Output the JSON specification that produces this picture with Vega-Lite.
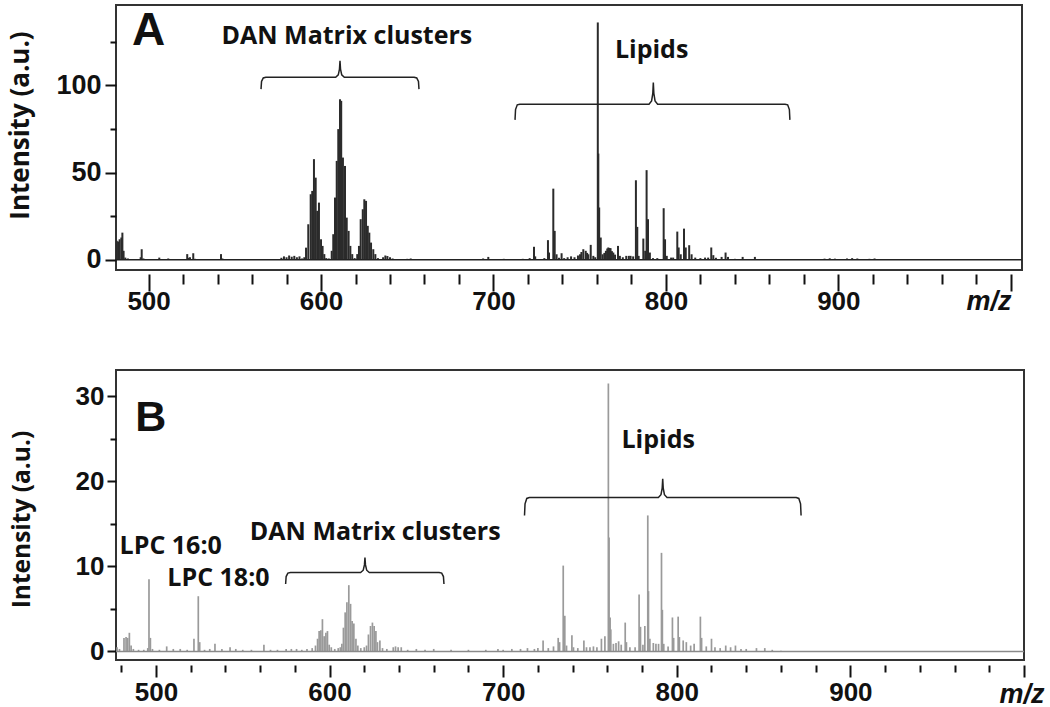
{
  "$schema": "https://vega.github.io/schema/vega-lite/v6.json",
  "background": "white",
  "padding": {"left": 5, "top": 4, "right": 0, "bottom": 0},
  "spacing": 54,
  "config": {
    "view": {"stroke": "#333333", "strokeWidth": 2},
    "axis": {"grid": false, "domain": false, "tickColor": "#111111", "tickWidth": 2, "labelColor": "#111111", "titleColor": "#111111", "labelFont": "Liberation Sans", "labelFontWeight": "bold", "labelOverlap": false, "labelFlush": false, "labelBound": false}
  },
  "datasets": {
    "spectrumA": [
      {"mz": 481.5, "intensity": 10.9}, {"mz": 482.3, "intensity": 10.5}, {"mz": 483.2, "intensity": 11.8}, {"mz": 484.2, "intensity": 12.8}, {"mz": 484.8, "intensity": 15.6}, {"mz": 485.5, "intensity": 5.2}, {"mz": 486.5, "intensity": 1.3}, {"mz": 488, "intensity": 0.8}, {"mz": 490, "intensity": 0.3}, {"mz": 493, "intensity": 0.4}, {"mz": 495.4, "intensity": 1.5}, {"mz": 496.0, "intensity": 6.1}, {"mz": 497, "intensity": 0.8}, {"mz": 500, "intensity": 0.3},
      {"mz": 506.2, "intensity": 1.3}, {"mz": 509, "intensity": 0.4}, {"mz": 511.4, "intensity": 0.8}, {"mz": 515, "intensity": 0.3}, {"mz": 518, "intensity": 0.4}, {"mz": 522.4, "intensity": 3.3}, {"mz": 523.2, "intensity": 1.2}, {"mz": 524.0, "intensity": 1.5}, {"mz": 525.9, "intensity": 3.8}, {"mz": 527, "intensity": 0.6}, {"mz": 530, "intensity": 0.3}, {"mz": 535, "intensity": 0.3}, {"mz": 542, "intensity": 3.3}, {"mz": 542.8, "intensity": 0.8}, {"mz": 546, "intensity": 0.3}, {"mz": 550.1, "intensity": 0.5}, {"mz": 555, "intensity": 0.3}, {"mz": 560, "intensity": 0.4}, {"mz": 565, "intensity": 0.3}, {"mz": 568, "intensity": 0.5}, {"mz": 570, "intensity": 0.5}, {"mz": 573, "intensity": 0.3},
      {"mz": 577, "intensity": 1.2}, {"mz": 578.5, "intensity": 2.0}, {"mz": 580, "intensity": 1.5}, {"mz": 581.5, "intensity": 2.5}, {"mz": 583, "intensity": 1.8}, {"mz": 584.5, "intensity": 2.3}, {"mz": 586, "intensity": 1.5}, {"mz": 587.5, "intensity": 2.0}, {"mz": 589, "intensity": 0.8}, {"mz": 590.3, "intensity": 1.5},
      {"mz": 591.3, "intensity": 7.0}, {"mz": 592.6, "intensity": 20.4}, {"mz": 594.0, "intensity": 37.6}, {"mz": 594.9, "intensity": 39.5}, {"mz": 595.9, "intensity": 57.7}, {"mz": 596.9, "intensity": 47.1}, {"mz": 597.8, "intensity": 28.1}, {"mz": 598.8, "intensity": 32.8}, {"mz": 600.0, "intensity": 11.8}, {"mz": 600.9, "intensity": 8.0}, {"mz": 601.9, "intensity": 3.3}, {"mz": 603, "intensity": 1.0}, {"mz": 604.5, "intensity": 0.8},
      {"mz": 606.2, "intensity": 5.2}, {"mz": 607.1, "intensity": 14.7}, {"mz": 608.1, "intensity": 35.7}, {"mz": 609.1, "intensity": 56.7}, {"mz": 610.0, "intensity": 74.9}, {"mz": 611.0, "intensity": 92.0}, {"mz": 611.7, "intensity": 91.1}, {"mz": 612.7, "intensity": 58.6}, {"mz": 613.9, "intensity": 53.8}, {"mz": 614.9, "intensity": 24.2}, {"mz": 616.0, "intensity": 16.6}, {"mz": 617.0, "intensity": 8.0}, {"mz": 618.1, "intensity": 3.3}, {"mz": 619.5, "intensity": 1.0},
      {"mz": 621.0, "intensity": 3.3}, {"mz": 622.0, "intensity": 8.0}, {"mz": 623.0, "intensity": 23.3}, {"mz": 624.2, "intensity": 29.0}, {"mz": 625.1, "intensity": 34.7}, {"mz": 626.1, "intensity": 33.8}, {"mz": 627.1, "intensity": 19.5}, {"mz": 628.0, "intensity": 15.6}, {"mz": 629.0, "intensity": 9.9}, {"mz": 630.3, "intensity": 6.1}, {"mz": 631.5, "intensity": 3.3}, {"mz": 633, "intensity": 1.0},
      {"mz": 636, "intensity": 1.5}, {"mz": 637.3, "intensity": 2.5}, {"mz": 638.5, "intensity": 2.2}, {"mz": 640, "intensity": 1.5}, {"mz": 641.5, "intensity": 0.8}, {"mz": 645, "intensity": 0.4}, {"mz": 650, "intensity": 0.6}, {"mz": 652, "intensity": 0.8}, {"mz": 655, "intensity": 0.4}, {"mz": 660, "intensity": 0.3}, {"mz": 665, "intensity": 0.3}, {"mz": 668, "intensity": 0.4}, {"mz": 675, "intensity": 0.3}, {"mz": 680, "intensity": 0.3}, {"mz": 685, "intensity": 0.4}, {"mz": 690, "intensity": 0.3}, {"mz": 694, "intensity": 0.8}, {"mz": 697, "intensity": 1.7}, {"mz": 699, "intensity": 0.5}, {"mz": 703, "intensity": 0.4}, {"mz": 706, "intensity": 0.6}, {"mz": 710, "intensity": 0.5}, {"mz": 714, "intensity": 0.4}, {"mz": 717, "intensity": 0.6}, {"mz": 721, "intensity": 1.0}, {"mz": 723.5, "intensity": 7.5}, {"mz": 724.2, "intensity": 2.0}, {"mz": 727, "intensity": 0.3},
      {"mz": 729.5, "intensity": 1.0}, {"mz": 731.6, "intensity": 11.3}, {"mz": 732.2, "intensity": 4.2}, {"mz": 734.7, "intensity": 40.8}, {"mz": 735.5, "intensity": 16.6}, {"mz": 736.6, "intensity": 3.2}, {"mz": 738, "intensity": 1.2}, {"mz": 739.5, "intensity": 3.8}, {"mz": 741, "intensity": 1.0}, {"mz": 743, "intensity": 1.5}, {"mz": 745, "intensity": 2.0}, {"mz": 747, "intensity": 1.5}, {"mz": 749, "intensity": 2.5}, {"mz": 750.2, "intensity": 3.2}, {"mz": 751, "intensity": 4.5}, {"mz": 752.1, "intensity": 6.1}, {"mz": 753.5, "intensity": 5.2}, {"mz": 754.3, "intensity": 4.0}, {"mz": 755.0, "intensity": 3.2}, {"mz": 756.4, "intensity": 8.6}, {"mz": 757.9, "intensity": 2.3}, {"mz": 759, "intensity": 1.5},
      {"mz": 760.5, "intensity": 136}, {"mz": 760.8, "intensity": 60.9}, {"mz": 761.3, "intensity": 30}, {"mz": 762.2, "intensity": 12.8}, {"mz": 763.3, "intensity": 3.2}, {"mz": 764.3, "intensity": 4.0}, {"mz": 765.2, "intensity": 5.2}, {"mz": 766.0, "intensity": 6.5}, {"mz": 766.6, "intensity": 7.1}, {"mz": 767.3, "intensity": 6.8}, {"mz": 767.9, "intensity": 6.7}, {"mz": 768.7, "intensity": 5.0}, {"mz": 769.5, "intensity": 4.2}, {"mz": 770.5, "intensity": 3.0}, {"mz": 772.2, "intensity": 8.0}, {"mz": 773.3, "intensity": 2.3}, {"mz": 775, "intensity": 1.5}, {"mz": 777, "intensity": 2.3}, {"mz": 778.5, "intensity": 2.3}, {"mz": 779.5, "intensity": 2.3}, {"mz": 781, "intensity": 2.0},
      {"mz": 782.6, "intensity": 45.6}, {"mz": 783.4, "intensity": 18.9}, {"mz": 784.2, "intensity": 2.3}, {"mz": 786.9, "intensity": 12.2}, {"mz": 788.0, "intensity": 5.2}, {"mz": 788.8, "intensity": 51.4}, {"mz": 789.6, "intensity": 23.3}, {"mz": 790.7, "intensity": 4.2}, {"mz": 792.5, "intensity": 1.0}, {"mz": 795, "intensity": 1.0}, {"mz": 798.7, "intensity": 29.6}, {"mz": 799.5, "intensity": 11.8}, {"mz": 800.5, "intensity": 2.3}, {"mz": 803, "intensity": 1.3}, {"mz": 804.2, "intensity": 1.3}, {"mz": 806.6, "intensity": 16.2}, {"mz": 807.4, "intensity": 7.1}, {"mz": 808.6, "intensity": 3.2}, {"mz": 810.5, "intensity": 17.9}, {"mz": 811.5, "intensity": 7.1}, {"mz": 813.5, "intensity": 8.4}, {"mz": 814.9, "intensity": 3.2}, {"mz": 817, "intensity": 1.3}, {"mz": 820, "intensity": 1.0}, {"mz": 822.7, "intensity": 1.3}, {"mz": 824.5, "intensity": 1.3}, {"mz": 826.3, "intensity": 7.1}, {"mz": 827.5, "intensity": 2.7}, {"mz": 829, "intensity": 1.2}, {"mz": 832.3, "intensity": 1.7}, {"mz": 834.6, "intensity": 4.2}, {"mz": 836, "intensity": 1.7}, {"mz": 840, "intensity": 0.6}, {"mz": 844.5, "intensity": 1.7}, {"mz": 848, "intensity": 0.5}, {"mz": 851.6, "intensity": 1.7}, {"mz": 855, "intensity": 0.4}, {"mz": 860, "intensity": 0.3}, {"mz": 866, "intensity": 0.4}, {"mz": 872, "intensity": 0.3}, {"mz": 880, "intensity": 0.3}, {"mz": 886, "intensity": 0.4}, {"mz": 892, "intensity": 0.7}, {"mz": 895, "intensity": 0.9}, {"mz": 898, "intensity": 0.7}, {"mz": 905, "intensity": 0.8}, {"mz": 908, "intensity": 1.0}, {"mz": 911, "intensity": 0.8}, {"mz": 918, "intensity": 0.6}, {"mz": 921, "intensity": 0.8}, {"mz": 925, "intensity": 0.5}, {"mz": 932, "intensity": 0.4}, {"mz": 940, "intensity": 0.3}, {"mz": 950, "intensity": 0.3}
    ],
    "spectrumB": [
      {"mz": 477.6, "intensity": 0.5}, {"mz": 479, "intensity": 0.3}, {"mz": 481.6, "intensity": 1.6}, {"mz": 482.8, "intensity": 1.7}, {"mz": 483.7, "intensity": 1.6}, {"mz": 484.7, "intensity": 2.2}, {"mz": 485.7, "intensity": 0.7}, {"mz": 487, "intensity": 0.3}, {"mz": 490, "intensity": 0.2}, {"mz": 493, "intensity": 0.2}, {"mz": 495.3, "intensity": 0.4}, {"mz": 496.0, "intensity": 8.5}, {"mz": 496.8, "intensity": 1.6}, {"mz": 498, "intensity": 0.3}, {"mz": 502, "intensity": 0.2}, {"mz": 506.2, "intensity": 0.6}, {"mz": 510, "intensity": 0.3}, {"mz": 514, "intensity": 0.3}, {"mz": 518, "intensity": 0.2}, {"mz": 521.9, "intensity": 1.5}, {"mz": 524.4, "intensity": 6.5}, {"mz": 525.2, "intensity": 1.1}, {"mz": 528, "intensity": 0.2}, {"mz": 531, "intensity": 0.3}, {"mz": 534.0, "intensity": 0.9}, {"mz": 538, "intensity": 0.3}, {"mz": 542.7, "intensity": 0.5}, {"mz": 546, "intensity": 0.3}, {"mz": 550, "intensity": 0.2}, {"mz": 555, "intensity": 0.2}, {"mz": 562.2, "intensity": 0.8}, {"mz": 566, "intensity": 0.2}, {"mz": 570, "intensity": 0.2}, {"mz": 575, "intensity": 0.3}, {"mz": 578, "intensity": 0.3}, {"mz": 581, "intensity": 0.3}, {"mz": 584, "intensity": 0.2}, {"mz": 587, "intensity": 0.3}, {"mz": 590, "intensity": 0.4},
      {"mz": 591.9, "intensity": 0.7}, {"mz": 593.1, "intensity": 1.5}, {"mz": 594.0, "intensity": 2.4}, {"mz": 595.0, "intensity": 2.5}, {"mz": 595.9, "intensity": 3.8}, {"mz": 596.9, "intensity": 1.8}, {"mz": 597.9, "intensity": 2.2}, {"mz": 598.8, "intensity": 2.4}, {"mz": 599.8, "intensity": 0.8}, {"mz": 601, "intensity": 0.5}, {"mz": 603, "intensity": 0.3}, {"mz": 605, "intensity": 0.4}, {"mz": 606.2, "intensity": 0.5}, {"mz": 607.1, "intensity": 0.9}, {"mz": 608.0, "intensity": 2.8}, {"mz": 609.0, "intensity": 4.6}, {"mz": 610.0, "intensity": 5.8}, {"mz": 611.1, "intensity": 7.8}, {"mz": 612.1, "intensity": 5.6}, {"mz": 613.0, "intensity": 3.6}, {"mz": 614.0, "intensity": 3.3}, {"mz": 615.2, "intensity": 1.5}, {"mz": 616.3, "intensity": 0.7}, {"mz": 618, "intensity": 0.4}, {"mz": 620, "intensity": 0.5}, {"mz": 621.3, "intensity": 0.7}, {"mz": 622.4, "intensity": 2.0}, {"mz": 623.6, "intensity": 3.0}, {"mz": 624.7, "intensity": 3.4}, {"mz": 625.7, "intensity": 3.0}, {"mz": 626.7, "intensity": 2.4}, {"mz": 627.6, "intensity": 1.1}, {"mz": 629.0, "intensity": 1.3}, {"mz": 630.5, "intensity": 0.4}, {"mz": 633, "intensity": 0.3}, {"mz": 636.7, "intensity": 0.5}, {"mz": 638, "intensity": 0.6}, {"mz": 639.5, "intensity": 0.5}, {"mz": 641.3, "intensity": 0.5}, {"mz": 645, "intensity": 0.2}, {"mz": 650, "intensity": 0.3}, {"mz": 655, "intensity": 0.2}, {"mz": 660, "intensity": 0.3}, {"mz": 670, "intensity": 0.2}, {"mz": 680, "intensity": 0.2}, {"mz": 690, "intensity": 0.2}, {"mz": 697, "intensity": 0.3}, {"mz": 700, "intensity": 0.2}, {"mz": 705, "intensity": 0.3}, {"mz": 710, "intensity": 0.3}, {"mz": 714, "intensity": 0.4}, {"mz": 718, "intensity": 0.3}, {"mz": 720, "intensity": 0.4},
      {"mz": 723.0, "intensity": 1.3}, {"mz": 726, "intensity": 0.4}, {"mz": 729, "intensity": 0.6}, {"mz": 731.7, "intensity": 1.6}, {"mz": 732.5, "intensity": 1.1}, {"mz": 734.6, "intensity": 10.1}, {"mz": 735.5, "intensity": 4.2}, {"mz": 736.5, "intensity": 0.7}, {"mz": 739.6, "intensity": 1.9}, {"mz": 740.5, "intensity": 0.5}, {"mz": 743, "intensity": 0.4}, {"mz": 746.5, "intensity": 1.3}, {"mz": 748, "intensity": 0.5}, {"mz": 750, "intensity": 0.5}, {"mz": 752, "intensity": 0.6}, {"mz": 754, "intensity": 0.5}, {"mz": 756.6, "intensity": 1.5}, {"mz": 758.6, "intensity": 1.8}, {"mz": 760.6, "intensity": 31.5}, {"mz": 761.0, "intensity": 13.4}, {"mz": 761.6, "intensity": 4.0}, {"mz": 762.0, "intensity": 2.6}, {"mz": 763.5, "intensity": 0.9}, {"mz": 765, "intensity": 1.0}, {"mz": 766.5, "intensity": 1.2}, {"mz": 768, "intensity": 0.8}, {"mz": 770.3, "intensity": 3.4}, {"mz": 771, "intensity": 1.1}, {"mz": 773, "intensity": 0.5}, {"mz": 776, "intensity": 0.5}, {"mz": 778.3, "intensity": 6.7}, {"mz": 779.1, "intensity": 2.9}, {"mz": 780.5, "intensity": 0.8}, {"mz": 781.6, "intensity": 3.0}, {"mz": 783.3, "intensity": 16.0}, {"mz": 783.7, "intensity": 7.1}, {"mz": 784.5, "intensity": 1.5}, {"mz": 786.5, "intensity": 1.0}, {"mz": 788, "intensity": 0.9}, {"mz": 789.5, "intensity": 0.9}, {"mz": 791.2, "intensity": 11.6}, {"mz": 791.7, "intensity": 4.9}, {"mz": 792.5, "intensity": 0.9}, {"mz": 795, "intensity": 0.6}, {"mz": 797.5, "intensity": 4.0}, {"mz": 798.2, "intensity": 1.6}, {"mz": 800.8, "intensity": 4.1}, {"mz": 801.5, "intensity": 1.7}, {"mz": 803.7, "intensity": 1.3}, {"mz": 805.5, "intensity": 1.1}, {"mz": 808, "intensity": 0.7}, {"mz": 810, "intensity": 0.9}, {"mz": 813.6, "intensity": 4.1}, {"mz": 814.3, "intensity": 1.6}, {"mz": 817, "intensity": 0.6}, {"mz": 820, "intensity": 1.5}, {"mz": 822, "intensity": 0.5}, {"mz": 825, "intensity": 0.4}, {"mz": 828.2, "intensity": 0.7}, {"mz": 831, "intensity": 0.5}, {"mz": 833.8, "intensity": 0.7}, {"mz": 837, "intensity": 0.3}, {"mz": 840, "intensity": 0.3}, {"mz": 845.9, "intensity": 0.4}, {"mz": 850.7, "intensity": 0.4}, {"mz": 855, "intensity": 0.2}, {"mz": 860, "intensity": 0.1}
    ],
    "braces": [
      {"panel": "A", "id": "A-DAN", "order": 1, "mz": 565.2, "intensity": 97.8}, {"panel": "A", "id": "A-DAN", "order": 2, "mz": 565.5, "intensity": 102.2}, {"panel": "A", "id": "A-DAN", "order": 3, "mz": 566.5, "intensity": 104.2}, {"panel": "A", "id": "A-DAN", "order": 4, "mz": 568.0, "intensity": 104.6}, {"panel": "A", "id": "A-DAN", "order": 5, "mz": 608.5, "intensity": 104.6}, {"panel": "A", "id": "A-DAN", "order": 6, "mz": 610.0, "intensity": 106.0}, {"panel": "A", "id": "A-DAN", "order": 7, "mz": 610.7, "intensity": 109.3}, {"panel": "A", "id": "A-DAN", "order": 8, "mz": 611.0, "intensity": 114.0}, {"panel": "A", "id": "A-DAN", "order": 9, "mz": 611.3, "intensity": 109.3}, {"panel": "A", "id": "A-DAN", "order": 10, "mz": 612.0, "intensity": 106.0}, {"panel": "A", "id": "A-DAN", "order": 11, "mz": 613.5, "intensity": 104.6}, {"panel": "A", "id": "A-DAN", "order": 12, "mz": 654.0, "intensity": 104.6}, {"panel": "A", "id": "A-DAN", "order": 13, "mz": 655.5, "intensity": 104.2}, {"panel": "A", "id": "A-DAN", "order": 14, "mz": 656.5, "intensity": 102.2}, {"panel": "A", "id": "A-DAN", "order": 15, "mz": 656.8, "intensity": 97.8},
      {"panel": "A", "id": "A-LIP", "order": 1, "mz": 712.5, "intensity": 80.2}, {"panel": "A", "id": "A-LIP", "order": 2, "mz": 712.8, "intensity": 86.1}, {"panel": "A", "id": "A-LIP", "order": 3, "mz": 713.8, "intensity": 88.8}, {"panel": "A", "id": "A-LIP", "order": 4, "mz": 715.3, "intensity": 89.2}, {"panel": "A", "id": "A-LIP", "order": 5, "mz": 790.2, "intensity": 89.2}, {"panel": "A", "id": "A-LIP", "order": 6, "mz": 791.7, "intensity": 91.1}, {"panel": "A", "id": "A-LIP", "order": 7, "mz": 792.4, "intensity": 95.4}, {"panel": "A", "id": "A-LIP", "order": 8, "mz": 792.7, "intensity": 101.6}, {"panel": "A", "id": "A-LIP", "order": 9, "mz": 793.0, "intensity": 95.4}, {"panel": "A", "id": "A-LIP", "order": 10, "mz": 793.7, "intensity": 91.1}, {"panel": "A", "id": "A-LIP", "order": 11, "mz": 795.2, "intensity": 89.2}, {"panel": "A", "id": "A-LIP", "order": 12, "mz": 869.1, "intensity": 89.2}, {"panel": "A", "id": "A-LIP", "order": 13, "mz": 870.6, "intensity": 88.8}, {"panel": "A", "id": "A-LIP", "order": 14, "mz": 871.6, "intensity": 86.1}, {"panel": "A", "id": "A-LIP", "order": 15, "mz": 871.9, "intensity": 80.2},
      {"panel": "B", "id": "B-DAN", "order": 1, "mz": 574.7, "intensity": 7.93}, {"panel": "B", "id": "B-DAN", "order": 2, "mz": 575.0, "intensity": 8.81}, {"panel": "B", "id": "B-DAN", "order": 3, "mz": 576.0, "intensity": 9.22}, {"panel": "B", "id": "B-DAN", "order": 4, "mz": 577.5, "intensity": 9.29}, {"panel": "B", "id": "B-DAN", "order": 5, "mz": 617.9, "intensity": 9.29}, {"panel": "B", "id": "B-DAN", "order": 6, "mz": 619.4, "intensity": 9.56}, {"panel": "B", "id": "B-DAN", "order": 7, "mz": 620.1, "intensity": 10.18}, {"panel": "B", "id": "B-DAN", "order": 8, "mz": 620.4, "intensity": 11.06}, {"panel": "B", "id": "B-DAN", "order": 9, "mz": 620.7, "intensity": 10.18}, {"panel": "B", "id": "B-DAN", "order": 10, "mz": 621.4, "intensity": 9.56}, {"panel": "B", "id": "B-DAN", "order": 11, "mz": 622.9, "intensity": 9.29}, {"panel": "B", "id": "B-DAN", "order": 12, "mz": 663.1, "intensity": 9.29}, {"panel": "B", "id": "B-DAN", "order": 13, "mz": 664.6, "intensity": 9.22}, {"panel": "B", "id": "B-DAN", "order": 14, "mz": 665.6, "intensity": 8.81}, {"panel": "B", "id": "B-DAN", "order": 15, "mz": 665.9, "intensity": 7.93},
      {"panel": "B", "id": "B-LIP", "order": 1, "mz": 712.3, "intensity": 16.0}, {"panel": "B", "id": "B-LIP", "order": 2, "mz": 712.6, "intensity": 17.37}, {"panel": "B", "id": "B-LIP", "order": 3, "mz": 713.6, "intensity": 18.0}, {"panel": "B", "id": "B-LIP", "order": 4, "mz": 715.1, "intensity": 18.1}, {"panel": "B", "id": "B-LIP", "order": 5, "mz": 789.4, "intensity": 18.1}, {"panel": "B", "id": "B-LIP", "order": 6, "mz": 790.9, "intensity": 18.43}, {"panel": "B", "id": "B-LIP", "order": 7, "mz": 791.6, "intensity": 19.2}, {"panel": "B", "id": "B-LIP", "order": 8, "mz": 791.9, "intensity": 20.3}, {"panel": "B", "id": "B-LIP", "order": 9, "mz": 792.2, "intensity": 19.2}, {"panel": "B", "id": "B-LIP", "order": 10, "mz": 792.9, "intensity": 18.43}, {"panel": "B", "id": "B-LIP", "order": 11, "mz": 794.4, "intensity": 18.1}, {"panel": "B", "id": "B-LIP", "order": 12, "mz": 868.8, "intensity": 18.1}, {"panel": "B", "id": "B-LIP", "order": 13, "mz": 870.3, "intensity": 18.0}, {"panel": "B", "id": "B-LIP", "order": 14, "mz": 871.3, "intensity": 17.37}, {"panel": "B", "id": "B-LIP", "order": 15, "mz": 871.6, "intensity": 16.0}
    ],
    "labels": [
      {"panel": "A", "kind": "letter", "mz": 500.0, "intensity": 131, "label": "A"},
      {"panel": "A", "kind": "note", "mz": 615.0, "intensity": 128.3, "label": "DAN Matrix clusters"},
      {"panel": "A", "kind": "note", "mz": 791.7, "intensity": 120.0, "label": "Lipids"},
      {"panel": "B", "kind": "letter", "mz": 497.0, "intensity": 27.4, "label": "B"},
      {"panel": "B", "kind": "note", "mz": 508.5, "intensity": 12.4, "label": "LPC 16:0"},
      {"panel": "B", "kind": "note", "mz": 536.0, "intensity": 8.7, "label": "LPC 18:0"},
      {"panel": "B", "kind": "note", "mz": 626.3, "intensity": 14.1, "label": "DAN Matrix clusters"},
      {"panel": "B", "kind": "note", "mz": 789.3, "intensity": 24.9, "label": "Lipids"}
    ],
    "baseline": [{"intensity": 0}]
  },
  "vconcat": [
    {
      "width": 906,
      "height": 265,
      "resolve": {"axis": {"x": "independent", "y": "independent"}},
      "layer": [
        {
          "data": {"name": "spectrumA"},
          "mark": {"type": "rule", "color": "#2b2b2b", "strokeWidth": 2.0, "clip": true},
          "encoding": {
            "x": {"field": "mz", "type": "quantitative", "scale": {"domain": [481.1, 1006.5], "nice": false, "zero": false},
              "axis": {
                "orient": "bottom",
                "values": [500, 600, 700, 800, 900, 1000],
                "offset": 4, "tickSize": 17, "labelOverlap": false,
                "labelExpr": "datum.value < 1000 ? datum.label : ''",
                "labelFontSize": 26, "labelPadding": -3,
                "title": "m/z", "titleFont": "Liberation Sans", "titleFontStyle": "italic", "titleFontWeight": "bold", "titleFontSize": 27,
                "titleX": 895, "titleY": 35, "titleAlign": "right", "titleBaseline": "alphabetic", "titleAngle": 0
              }},
            "y": {"field": "intensity", "type": "quantitative", "scale": {"domain": [-5.8, 146], "nice": false, "zero": false},
              "axis": {
                "orient": "left",
                "values": [0, 50, 100],
                "tickSize": 11, "labelOverlap": false,
                "labelFontSize": 27, "labelPadding": 4,
                "title": "Intensity (a.u.)", "titleFont": "Open Sans", "titleFontWeight": "bold", "titleFontSize": 26,
                "titleX": -83, "titleY": 120, "titleAngle": -90, "titleAlign": "center", "titleBaseline": "bottom"
              }},
            "y2": {"datum": 0}
          }
        },
        {
          "data": {"name": "braces"},
          "transform": [{"filter": "datum.panel === 'A'"}],
          "mark": {"type": "line", "color": "#222222", "strokeWidth": 1.5},
          "encoding": {
            "x": {"field": "mz", "type": "quantitative", "scale": {"domain": [481.1, 1006.5], "nice": false, "zero": false},
              "axis": {"orient": "bottom", "values": [520, 540, 560, 580, 620, 640, 660, 680, 720, 740, 760, 780, 820, 840, 860, 880, 920, 940, 960, 980], "offset": 4, "tickSize": 10, "labels": false, "title": null}},
            "y": {"field": "intensity", "type": "quantitative", "scale": {"domain": [-5.8, 146], "nice": false, "zero": false},
              "axis": {"orient": "left", "values": [25, 75, 125], "tickSize": 6, "labels": false, "title": null}},
            "detail": {"field": "id"},
            "order": {"field": "order"}
          }
        },
        {
          "data": {"name": "baseline"},
          "mark": {"type": "rule", "color": "#222222", "strokeWidth": 1.5},
          "encoding": {"y": {"field": "intensity", "type": "quantitative", "axis": null}}
        },
        {
          "data": {"name": "labels"},
          "transform": [{"filter": "datum.panel === 'A' && datum.kind === 'note'"}],
          "mark": {"type": "text", "font": "Open Sans", "fontWeight": "bold", "fontSize": 25, "color": "#111111", "align": "center", "baseline": "middle"},
          "encoding": {
            "x": {"field": "mz", "type": "quantitative", "axis": null},
            "y": {"field": "intensity", "type": "quantitative", "axis": null},
            "text": {"field": "label"}
          }
        },
        {
          "data": {"name": "labels"},
          "transform": [{"filter": "datum.panel === 'A' && datum.kind === 'letter'"}],
          "mark": {"type": "text", "font": "Liberation Sans", "fontWeight": "bold", "fontSize": 46, "color": "#111111", "align": "center", "baseline": "middle"},
          "encoding": {
            "x": {"field": "mz", "type": "quantitative", "axis": null},
            "y": {"field": "intensity", "type": "quantitative", "axis": null},
            "text": {"field": "label"}
          }
        }
      ]
    },
    {
      "width": 908,
      "height": 290,
      "resolve": {"axis": {"x": "independent", "y": "independent"}},
      "layer": [
        {
          "data": {"name": "spectrumB"},
          "mark": {"type": "rule", "color": "#9a9a9a", "strokeWidth": 1.7, "clip": true},
          "encoding": {
            "x": {"field": "mz", "type": "quantitative", "scale": {"domain": [477, 1000], "nice": false, "zero": false},
              "axis": {
                "orient": "bottom",
                "values": [500, 600, 700, 800, 900, 1000],
                "offset": 5, "tickSize": 12, "labelOverlap": false,
                "labelExpr": "datum.value < 1000 ? datum.label : ''",
                "labelFontSize": 26, "labelPadding": 2,
                "title": "m/z", "titleFont": "Liberation Sans", "titleFontStyle": "italic", "titleFontWeight": "bold", "titleFontSize": 27,
                "titleX": 928, "titleY": 37, "titleAlign": "right", "titleBaseline": "alphabetic", "titleAngle": 0
              }},
            "y": {"field": "intensity", "type": "quantitative", "scale": {"domain": [-1.0, 33.1], "nice": false, "zero": false},
              "axis": {
                "orient": "left",
                "values": [0, 10, 20, 30],
                "tickSize": 9, "labelOverlap": false,
                "labelFontSize": 26, "labelPadding": 3,
                "title": "Intensity (a.u.)", "titleFont": "Open Sans", "titleFontWeight": "bold", "titleFontSize": 24.5,
                "titleX": -82, "titleY": 149, "titleAngle": -90, "titleAlign": "center", "titleBaseline": "bottom"
              }},
            "y2": {"datum": 0}
          }
        },
        {
          "data": {"name": "braces"},
          "transform": [{"filter": "datum.panel === 'B'"}],
          "mark": {"type": "line", "color": "#222222", "strokeWidth": 1.5},
          "encoding": {
            "x": {"field": "mz", "type": "quantitative", "scale": {"domain": [477, 1000], "nice": false, "zero": false},
              "axis": {"orient": "bottom", "values": [480, 520, 540, 560, 580, 620, 640, 660, 680, 720, 740, 760, 780, 820, 840, 860, 880, 920, 940, 960, 980], "offset": 5, "tickSize": 7, "labels": false, "title": null}},
            "y": {"field": "intensity", "type": "quantitative", "scale": {"domain": [-1.0, 33.1], "nice": false, "zero": false},
              "axis": {"orient": "left", "values": [5, 15, 25], "tickSize": 6, "labels": false, "title": null}},
            "detail": {"field": "id"},
            "order": {"field": "order"}
          }
        },
        {
          "data": {"name": "baseline"},
          "mark": {"type": "rule", "color": "#8a8a8a", "strokeWidth": 1.5},
          "encoding": {"y": {"field": "intensity", "type": "quantitative", "axis": null}}
        },
        {
          "data": {"name": "labels"},
          "transform": [{"filter": "datum.panel === 'B' && datum.kind === 'note'"}],
          "mark": {"type": "text", "font": "Open Sans", "fontWeight": "bold", "fontSize": 25, "color": "#111111", "align": "center", "baseline": "middle"},
          "encoding": {
            "x": {"field": "mz", "type": "quantitative", "axis": null},
            "y": {"field": "intensity", "type": "quantitative", "axis": null},
            "text": {"field": "label"}
          }
        },
        {
          "data": {"name": "labels"},
          "transform": [{"filter": "datum.panel === 'B' && datum.kind === 'letter'"}],
          "mark": {"type": "text", "font": "Liberation Sans", "fontWeight": "bold", "fontSize": 43, "color": "#111111", "align": "center", "baseline": "middle"},
          "encoding": {
            "x": {"field": "mz", "type": "quantitative", "axis": null},
            "y": {"field": "intensity", "type": "quantitative", "axis": null},
            "text": {"field": "label"}
          }
        }
      ]
    }
  ]
}
